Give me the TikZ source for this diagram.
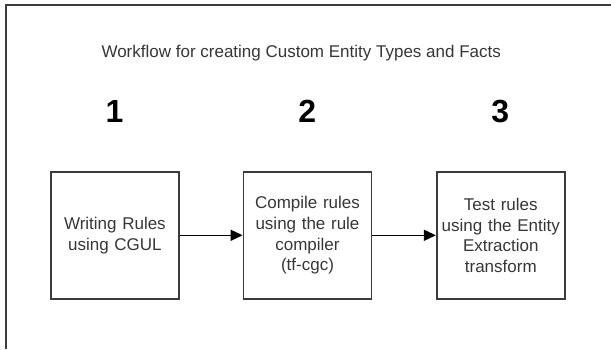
\documentclass[tikz,border=0pt]{standalone}
\usepackage{fontspec}
\setmainfont{Liberation Sans}
\usetikzlibrary{arrows.meta}
\definecolor{edgegray}{HTML}{3C3C3C}
\definecolor{textgray}{HTML}{363636}
\tikzset{
  stepbox/.style={draw=edgegray, line width=1.8pt, minimum width=128pt, minimum height=127pt,
    inner sep=0pt, align=center, text=textgray, text width=126pt,
    font=\fontsize{17pt}{20.6pt}\selectfont},
  stepnum/.style={font=\fontsize{32pt}{34pt}\selectfont\bfseries, text=black, inner sep=0pt},
  flow/.style={draw=black, line width=1.3pt, -{Triangle[length=12pt,width=11pt]}},
  framestyle/.style={draw=edgegray, line width=2pt}
}
\begin{document}
\begin{tikzpicture}[x=1pt,y=-1pt]
\useasboundingbox (0,0) rectangle (611,349);
\draw[framestyle] (6,349) -- (6,5) -- (611,5);
\node[text=textgray, font=\fontsize{17pt}{20pt}\selectfont, anchor=base, inner sep=0pt] (title) at (301.2,57.8) {Workflow for creating Custom Entity Types and Facts};
\node[stepbox] (b1) at (114.9,235.3) {Writing Rules\\using CGUL};
\node[stepbox] (b2) at (307.5,235.3) {Compile rules\\using the rule\\compiler\\(tf-cgc)};
\node[stepbox] (b3) at (500.8,235.3) {Test rules\\using the Entity\\Extraction\\transform};
\node[stepnum] (n1) at (114.5,111.5) {1};
\node[stepnum] (n2) at (307.2,111.5) {2};
\node[stepnum] (n3) at (500.3,111.5) {3};
\draw[flow] (b1.east) -- (b2.west);
\draw[flow] (b2.east) -- (b3.west);
\end{tikzpicture}
\end{document}
